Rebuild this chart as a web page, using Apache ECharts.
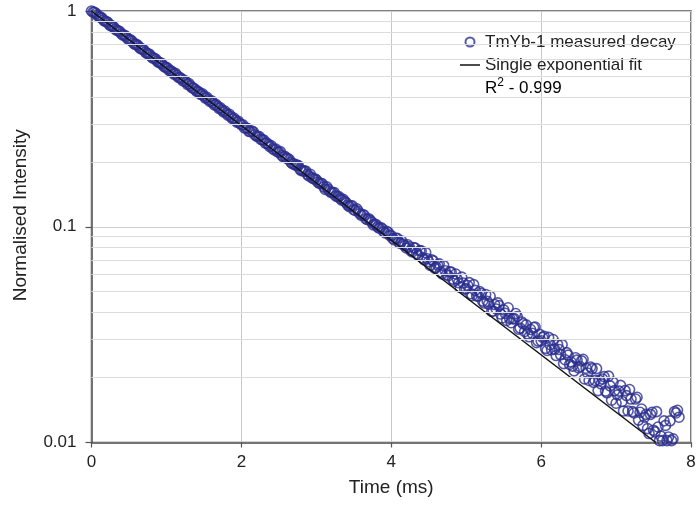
<!DOCTYPE html>
<html><head><meta charset="utf-8">
<script src="https://cdn.jsdelivr.net/npm/echarts@6/dist/echarts.min.js"></script>
<style>html,body{margin:0;padding:0;background:#fff}#c{width:696px;height:511px}</style>
</head><body><div id="c"></div>
<script>
const measuredTime = [
0.00,0.04,0.08,0.12,0.16,0.20,0.24,0.28,0.32,0.36,0.40,0.44,0.48,0.52,0.56,0.60,0.64,0.68,0.72,0.76,
0.80,0.84,0.88,0.92,0.96,1.00,1.04,1.08,1.12,1.16,1.20,1.24,1.28,1.32,1.36,1.40,1.44,1.48,1.52,1.56,
1.60,1.64,1.68,1.72,1.76,1.80,1.84,1.88,1.92,1.96,2.00,2.04,2.08,2.12,2.16,2.20,2.24,2.28,2.32,2.36,
2.40,2.44,2.48,2.52,2.56,2.60,2.64,2.68,2.72,2.76,2.80,2.84,2.88,2.92,2.96,3.00,3.04,3.08,3.12,3.16,
3.20,3.24,3.28,3.32,3.36,3.40,3.44,3.48,3.52,3.56,3.60,3.64,3.68,3.72,3.76,3.80,3.84,3.88,3.92,3.96,
4.00,4.02,4.04,4.06,4.08,4.10,4.12,4.14,4.16,4.18,4.20,4.22,4.24,4.26,4.28,4.30,4.32,4.34,4.36,4.38,
4.40,4.42,4.44,4.46,4.48,4.50,4.52,4.54,4.56,4.58,4.60,4.62,4.64,4.66,4.68,4.70,4.72,4.74,4.76,4.78,
4.80,4.82,4.84,4.86,4.88,4.90,4.92,4.94,4.96,4.98,5.00,5.02,5.04,5.06,5.08,5.10,5.12,5.14,5.16,5.18,
5.20,5.22,5.24,5.26,5.28,5.30,5.32,5.34,5.36,5.38,5.40,5.42,5.44,5.46,5.48,5.50,5.52,5.54,5.56,5.58,
5.60,5.62,5.64,5.66,5.68,5.70,5.72,5.74,5.76,5.78,5.80,5.82,5.84,5.86,5.88,5.90,5.92,5.94,5.96,5.98,
6.00,6.02,6.04,6.06,6.08,6.10,6.12,6.14,6.16,6.18,6.20,6.22,6.24,6.26,6.28,6.30,6.32,6.34,6.36,6.38,
6.40,6.42,6.44,6.46,6.48,6.50,6.52,6.54,6.56,6.58,6.60,6.62,6.64,6.66,6.68,6.70,6.72,6.74,6.76,6.78,
6.80,6.82,6.84,6.86,6.88,6.90,6.92,6.94,6.96,6.98,7.00,7.02,7.04,7.06,7.08,7.10,7.12,7.14,7.16,7.18,
7.20,7.22,7.24,7.26,7.28,7.30,7.32,7.34,7.36,7.38,7.40,7.42,7.44,7.46,7.48,7.50,7.52,7.54,7.56,7.58,
7.60,7.62,7.64,7.66,7.68,7.70,7.72,7.74,7.76,7.78,7.80,7.82,7.84,
0.02,0.06,0.10,0.14,0.18,0.22,0.26,0.30,0.34,0.38,0.42,0.46,0.50,0.54,0.58,0.62,0.66,0.70,0.74,0.78,
0.82,0.86,0.90,0.94,0.98,1.02,1.06,1.10,1.14,1.18,1.22,1.26,1.30,1.34,1.38,1.42,1.46,1.50,1.54,1.58,
1.62,1.66,1.70,1.74,1.78,1.82,1.86,1.90,1.94,1.98,2.02,2.06,2.10,2.14,2.18,2.22,2.26,2.30,2.34,2.38,
2.42,2.46,2.50,2.54,2.58,2.62,2.66,2.70,2.74,2.78,2.82,2.86,2.90,2.94,2.98,3.02,3.06,3.10,3.14,3.18,
3.22,3.26,3.30,3.34,3.38,3.42,3.46,3.50,3.54,3.58,3.62,3.66,3.70,3.74,3.78,3.82,3.86,3.90,3.94,3.98
];
const measuredIntensity = [
1.000,0.985,0.953,0.938,0.908,0.894,0.863,0.851,0.822,0.810,0.783,0.772,0.746,0.735,0.710,0.700,0.676,0.667,0.644,0.634,
0.613,0.604,0.584,0.576,0.556,0.548,0.529,0.521,0.514,0.492,0.485,0.477,0.457,0.450,0.439,0.425,0.419,0.413,0.395,0.389,
0.384,0.367,0.362,0.356,0.341,0.336,0.332,0.317,0.312,0.308,0.297,0.287,0.286,0.276,0.275,0.263,0.262,0.253,0.244,0.241,
0.237,0.227,0.223,0.223,0.211,0.208,0.205,0.196,0.193,0.192,0.182,0.181,0.175,0.175,0.167,0.165,0.159,0.158,0.149,0.149,
0.144,0.144,0.138,0.135,0.134,0.129,0.124,0.125,0.119,0.118,0.113,0.113,0.108,0.107,0.102,0.102,0.0984,0.0979,0.0937,0.0941,
0.0909,0.0882,0.0870,0.0885,0.0883,0.0848,0.0837,0.0859,0.0832,0.0815,0.0797,0.0825,0.0807,0.0775,0.0765,0.0800,0.0797,0.0752,0.0737,0.0775,
0.0773,0.0717,0.0702,0.0759,0.0711,0.0689,0.0662,0.0703,0.0695,0.0643,0.0648,0.0664,0.0673,0.0618,0.0605,0.0660,0.0625,0.0601,0.0593,0.0618,
0.0616,0.0572,0.0559,0.0604,0.0572,0.0550,0.0523,0.0584,0.0549,0.0514,0.0517,0.0534,0.0551,0.0489,0.0479,0.0539,0.0507,0.0478,0.0477,0.0501,
0.0491,0.0452,0.0443,0.0485,0.0451,0.0438,0.0476,0.0405,0.0407,0.0436,0.0416,0.0444,0.0431,0.0394,0.0378,0.0412,0.0397,0.0368,0.0421,0.0376,
0.0359,0.0374,0.0375,0.0396,0.0384,0.0335,0.0339,0.0362,0.0355,0.0327,0.0351,0.0319,0.0309,0.0334,0.0321,0.0341,0.0343,0.0290,0.0295,0.0317,
0.0296,0.0307,0.0311,0.0273,0.0267,0.0307,0.0284,0.0269,0.0300,0.0271,0.0253,0.0285,0.0270,0.0255,0.0284,0.0232,0.0242,0.0261,0.0254,0.0230,
0.0236,0.0226,0.0215,0.0247,0.0241,0.0222,0.0225,0.0239,0.0243,0.0197,0.0221,0.0210,0.0194,0.0224,0.0220,0.0190,0.0194,0.0220,0.0174,0.0194,
0.0187,0.0197,0.0202,0.0173,0.0170,0.0203,0.0183,0.0157,0.0190,0.0174,0.0152,0.0166,0.0173,0.0184,0.0155,0.0140,0.0174,0.0165,0.0140,0.0176,
0.0159,0.0139,0.0137,0.0159,0.0162,0.0127,0.0138,0.0143,0.0120,0.0131,0.0135,0.0116,0.0110,0.0135,0.0138,0.0114,0.0112,0.0139,0.0118,0.0102,
0.0107,0.0102,0.0126,0.0120,0.0102,0.0106,0.0126,0.0102,0.0104,0.0139,0.0137,0.0141,0.0131,
0.988,0.974,0.941,0.927,0.896,0.883,0.853,0.840,0.812,0.801,0.773,0.763,0.736,0.726,0.701,0.691,0.668,0.659,0.636,0.627,
0.605,0.597,0.577,0.569,0.549,0.541,0.528,0.510,0.503,0.491,0.474,0.468,0.461,0.441,0.434,0.424,0.410,0.404,0.398,0.381,
0.375,0.369,0.354,0.348,0.344,0.329,0.324,0.319,0.305,0.301,0.297,0.287,0.277,0.278,0.267,0.262,0.254,0.252,0.244,0.235,
0.230,0.229,0.221,0.214,0.212,0.207,0.199,0.196,0.193,0.185,0.182,0.181,0.172,0.169,0.167,0.161,0.159,0.153,0.153,0.146,
0.144,0.139,0.138,0.133,0.131,0.126,0.125,0.120,0.121,0.115,0.114,0.109,0.109,0.105,0.103,0.0996,0.0991,0.0949,0.0953,0.0912
];
const fitTime = [0, 7.53];
const fitIntensity = [1, 0.01];
const xTickValues = [0, 2, 4, 6, 8];
const yTickLabels = ['0.01', '0.1', '1'];
const minorGridValues = [0.02,0.03,0.04,0.05,0.06,0.07,0.08,0.09,0.2,0.3,0.4,0.5,0.6,0.7,0.8,0.9];
const seriesNames = ['TmYb-1 measured decay', 'Single exponential fit'];

const FONT = '"Liberation Sans", Arial, sans-serif';
const TXT = '#222';
const AX = '#555';

const chart = echarts.init(document.getElementById('c'), null, {renderer: 'canvas'});
const measured = measuredTime.map((t, i) => [t, measuredIntensity[i]]);
const fit = fitTime.map((t, i) => [t, fitIntensity[i]]);

chart.setOption({
  animation: false,
  backgroundColor: '#fff',
  textStyle: {fontFamily: FONT},
  grid: {left: 91.5, right: 5, top: 11, bottom: 68.5, containLabel: false, outerBoundsMode: 'none',
         show: true, borderColor: AX, borderWidth: 1.5, backgroundColor: 'transparent'},
  legend: {
    orient: 'vertical', left: 460, top: 32, padding: 0, itemGap: 3,
    itemWidth: 20, itemHeight: 9,
    textStyle: {fontFamily: FONT, fontSize: 17, color: TXT, lineHeight: 20},
    data: [
      {name: seriesNames[0], icon: 'circle'},
      {name: seriesNames[1], icon: 'path://M0,0H40V3H0Z'}
    ]
  },
  graphic: [{
    type: 'text', left: 485, top: 77,
    style: {
      text: '{a|R}{b|2}{a| - 0.999}',
      rich: {
        a: {fontFamily: FONT, fontSize: 17, color: TXT, lineHeight: 20, verticalAlign: 'bottom'},
        b: {fontFamily: FONT, fontSize: 12, color: TXT, lineHeight: 12, verticalAlign: 'top'}
      }
    }
  }],
  xAxis: {
    type: 'value', min: xTickValues[0], max: xTickValues[xTickValues.length - 1], interval: 2,
    name: 'Time (ms)', nameLocation: 'middle', nameGap: 36,
    nameTextStyle: {fontFamily: FONT, fontSize: 19, color: TXT},
    axisLine: {show: true, onZero: false, lineStyle: {color: AX, width: 1.5}},
    axisTick: {show: true, inside: false, length: 5, lineStyle: {color: AX, width: 1.2}},
    axisLabel: {fontFamily: FONT, fontSize: 17, color: TXT, margin: 11},
    splitLine: {show: true, lineStyle: {color: '#c8c8c8', width: 1}}
  },
  yAxis: {
    type: 'log', logBase: 10, min: 0.01, max: 1,
    name: 'Normalised Intensity', nameLocation: 'middle', nameGap: 61,
    nameTextStyle: {fontFamily: FONT, fontSize: 19, color: TXT, padding: [0, 0, 0, 23]},
    axisLine: {show: true, lineStyle: {color: AX, width: 1.5}},
    axisTick: {show: true, inside: false, length: 6, lineStyle: {color: AX, width: 1.2}},
    axisLabel: {fontFamily: FONT, fontSize: 17, color: TXT, margin: 15,
      formatter: v => {
        const k = Math.round(Math.log10(v)) + 2;
        return yTickLabels[k] !== undefined ? yTickLabels[k] : '';
      }},
    splitLine: {show: true, lineStyle: {color: '#cfcfcf', width: 1}}
  },
  series: [
    {
      type: 'line', name: '_grid', data: [], z: 1, silent: true,
      markLine: {
        silent: true, symbol: ['none', 'none'], animation: false,
        label: {show: false},
        lineStyle: {color: '#dcdcdc', width: 1.2, type: 'solid'},
        emphasis: {disabled: true},
        data: minorGridValues.map(v => ({yAxis: v}))
      }
    },
    {
      type: 'scatter', name: seriesNames[0], data: measured, z: 2,
      symbol: 'circle', symbolSize: 10,
      itemStyle: {color: 'rgba(255,255,255,0)', borderColor: '#2b2e8f', borderWidth: 1.6},
      clip: true
    },
    {
      type: 'line', name: seriesNames[1], data: fit, z: 3,
      symbol: 'none', showSymbol: false,
      lineStyle: {color: '#111', width: 1.5},
      itemStyle: {color: '#111'},
      clip: true
    }
  ]
});
</script>
</body></html>
